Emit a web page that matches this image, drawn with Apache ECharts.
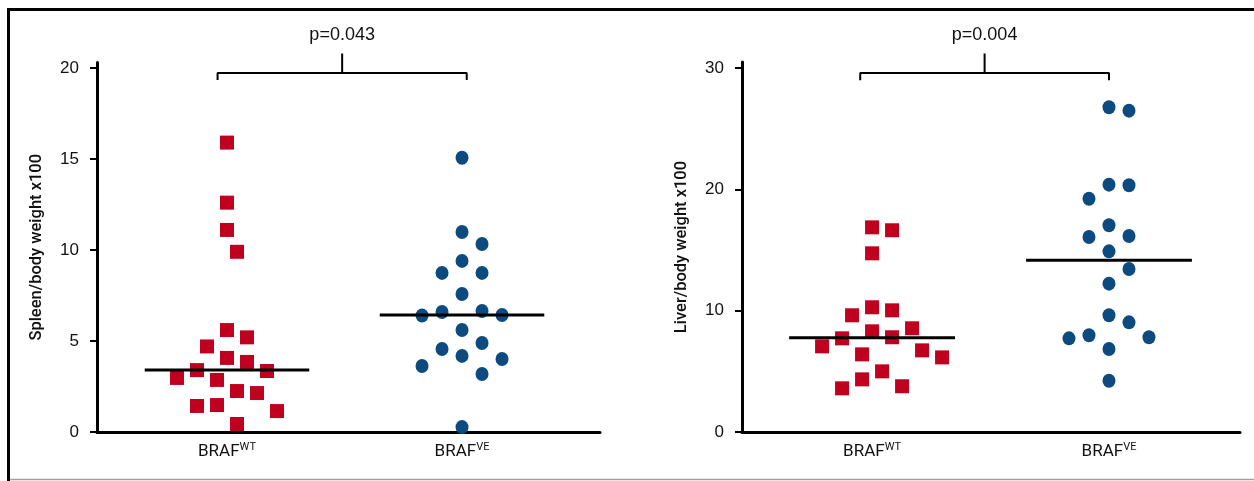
<!DOCTYPE html>
<html>
<head>
<meta charset="utf-8">
<script src="https://cdn.jsdelivr.net/npm/echarts@6/dist/echarts.min.js"></script>
<style>
html, body { margin: 0; padding: 0; background: #fff; }
#chart { width: 1254px; height: 481px; }
</style>
</head>
<body>
<div id="chart"></div>
<script>
// values
var groups = ['WT', 'VE'];
var spleenWT = [15.9, 12.6, 11.1, 9.9, 5.6, 5.2, 4.7, 4.07, 3.85, 3.4, 3.35, 2.97, 2.86, 2.25, 2.14, 1.48, 1.43, 1.15, 0.44];
var spleenVE = [15.07, 10.99, 10.33, 9.4, 8.74, 8.74, 7.58, 6.65, 6.43, 6.4, 6.59, 5.6, 4.89, 4.56, 4.18, 4.01, 3.63, 3.19, 0.27];
var liverWT = [16.87, 16.63, 14.73, 10.28, 9.62, 10.03, 8.55, 8.3, 7.81, 7.72, 7.06, 6.73, 6.4, 6.15, 5.0, 4.34, 3.77, 3.6];
var liverVE = [26.77, 26.49, 20.39, 20.34, 19.23, 17.04, 16.16, 16.07, 14.89, 13.44, 12.23, 9.62, 9.04, 7.97, 7.72, 7.81, 6.84, 4.23];
var spleenTicks = [0, 5, 10, 15, 20];
var liverTicks = [0, 10, 20, 30];
var pValues = ['p=0.043', 'p=0.004'];
var yNames = ['Spleen/body weight x100', 'Liver/body weight x100'];

var RED = '#c0001f';
var BLUE = '#0d4a80';
var LABEL_FONT = "Roboto, 'Liberation Sans', sans-serif";
var PLAIN = "'Liberation Sans', Arial, sans-serif";

function median(arr) {
    var s = arr.slice().sort(function (a, b) { return a - b; });
    var m = Math.floor(s.length / 2);
    return s.length % 2 ? s[m] : (s[m - 1] + s[m]) / 2;
}

var panels = [
    { wt: spleenWT, ve: spleenVE, ticks: spleenTicks, ymax: 20.3, xmin: 0.447, xmax: 2.587,
      grid: { left: 97, top: 62.5, width: 503, height: 369.5 },
      bracket: { x0: 0.96, x1: 2.02, low: 19.34, mid: 19.73, top: 20.8 } },
    { wt: liverWT, ve: liverVE, ticks: liverTicks, ymax: 30.5, xmin: 0.451, xmax: 2.553,
      grid: { left: 742, top: 62, width: 498, height: 370 },
      bracket: { x0: 0.95, x1: 2.0, low: 29.0, mid: 29.6, top: 31.2 } }
];

var grids = [], xAxes = [], yAxes = [], series = [];

panels.forEach(function (p, i) {
    grids.push(p.grid);
    xAxes.push({
        type: 'value', gridIndex: i, min: p.xmin, max: p.xmax,
        axisLine: { show: true, onZero: false, lineStyle: { color: '#000', width: 3 } },
        axisTick: { show: false },
        splitLine: { show: false },
        axisLabel: {
            customValues: [1, 2], margin: 10,
            formatter: function (v) { return '{b|BRAF}{s|' + groups[Math.round(v) - 1] + '}'; },
            rich: {
                b: { fontFamily: LABEL_FONT, fontSize: 17, lineHeight: 20, color: '#111' },
                s: { fontFamily: LABEL_FONT, fontSize: 11, lineHeight: 12, verticalAlign: 'top', color: '#111' }
            }
        }
    });
    yAxes.push({
        type: 'value', gridIndex: i, min: 0, max: p.ymax,
        axisLine: { show: true, lineStyle: { color: '#000', width: 3 } },
        axisTick: { show: true, customValues: p.ticks, length: 7, lineStyle: { color: '#000', width: 2 } },
        axisLabel: { customValues: p.ticks, fontFamily: PLAIN, fontSize: 17, color: '#111', margin: 18 },
        splitLine: { show: false },
        name: yNames[i], nameLocation: 'middle', nameGap: 52,
        nameTextStyle: { fontFamily: LABEL_FONT, fontWeight: 500, fontSize: 16.5, color: '#111' }
    });

    series.push({
        id: 'wt' + i, type: 'scatter', xAxisIndex: i, yAxisIndex: i,
        symbol: 'rect', symbolSize: 14, itemStyle: { color: RED, opacity: 1 },
        data: p.wt.map(function (v) { return [1, v]; })
    });
    series.push({
        id: 've' + i, type: 'scatter', xAxisIndex: i, yAxisIndex: i,
        symbol: 'circle', symbolSize: [13, 14], itemStyle: { color: BLUE, opacity: 1 },
        data: p.ve.map(function (v) { return [2, v]; })
    });

    [p.wt, p.ve].forEach(function (vals, g) {
        var m = median(vals);
        series.push({
            type: 'line', xAxisIndex: i, yAxisIndex: i, symbol: 'none', silent: true,
            lineStyle: { color: '#000', width: 3 },
            data: [[g + 1 - 0.35, m], [g + 1 + 0.35, m]]
        });
    });

    var b = p.bracket, c = (b.x0 + b.x1) / 2;
    series.push({
        type: 'line', xAxisIndex: i, yAxisIndex: i, symbol: 'none', silent: true, clip: false,
        lineStyle: { color: '#000', width: 2 },
        data: [[b.x0, b.low], [b.x0, b.mid], [c, b.mid], [c, b.top], [c, b.mid], [b.x1, b.mid], [b.x1, b.low]]
    });
    series.push({
        type: 'scatter', xAxisIndex: i, yAxisIndex: i, symbolSize: 0, silent: true, clip: false,
        itemStyle: { opacity: 1 },
        label: { show: true, position: 'top', distance: 9, formatter: pValues[i],
                 fontFamily: PLAIN, fontSize: 18, color: '#111' },
        data: [[c, b.top]]
    });
});

var chart = echarts.init(document.getElementById('chart'), null, { renderer: 'canvas' });
chart.setOption({
    animation: false,
    backgroundColor: '#fff',
    grid: grids, xAxis: xAxes, yAxis: yAxes, series: series,
    graphic: [
        { type: 'line', shape: { x1: 7, y1: 9.5, x2: 1254, y2: 9.5 }, style: { stroke: '#000', lineWidth: 3 } },
        { type: 'line', shape: { x1: 8.5, y1: 8, x2: 8.5, y2: 481 }, style: { stroke: '#000', lineWidth: 3 } },
        { type: 'line', shape: { x1: 10, y1: 479.5, x2: 1254, y2: 479.5 }, style: { stroke: '#a0a0a0', lineWidth: 1.5 } }
    ]
});

// beeswarm: spread points sideways on the library's pixel scale so they don't pile up
function swarm(vals, gx, gi) {
    var step = 10, wx = 20, wy = 24;
    var px1 = chart.convertToPixel({ gridIndex: gi }, [1, 0])[0];
    var px2 = chart.convertToPixel({ gridIndex: gi }, [2, 0])[0];
    var unit = px2 - px1;
    var order = vals.map(function (v, k) { return k; }).sort(function (a, b) { return vals[b] - vals[a]; });
    var placed = [], out = new Array(vals.length);
    order.forEach(function (k) {
        var py = chart.convertToPixel({ gridIndex: gi }, [gx, vals[k]])[1];
        for (var n = 0; n < 40; n++) {
            var off = (n % 2 ? 1 : -1) * Math.ceil(n / 2) * step;
            var hit = placed.some(function (q) {
                var dx = (q[0] - off) / wx, dy = (q[1] - py) / wy;
                return dx * dx + dy * dy < 1;
            });
            if (!hit) { placed.push([off, py]); out[k] = [gx + off / unit, vals[k]]; break; }
        }
    });
    return out;
}

chart.setOption({
    series: panels.reduce(function (acc, p, i) {
        acc.push({ id: 'wt' + i, data: swarm(p.wt, 1, i) });
        acc.push({ id: 've' + i, data: swarm(p.ve, 2, i) });
        return acc;
    }, [])
});
</script>
</body>
</html>
